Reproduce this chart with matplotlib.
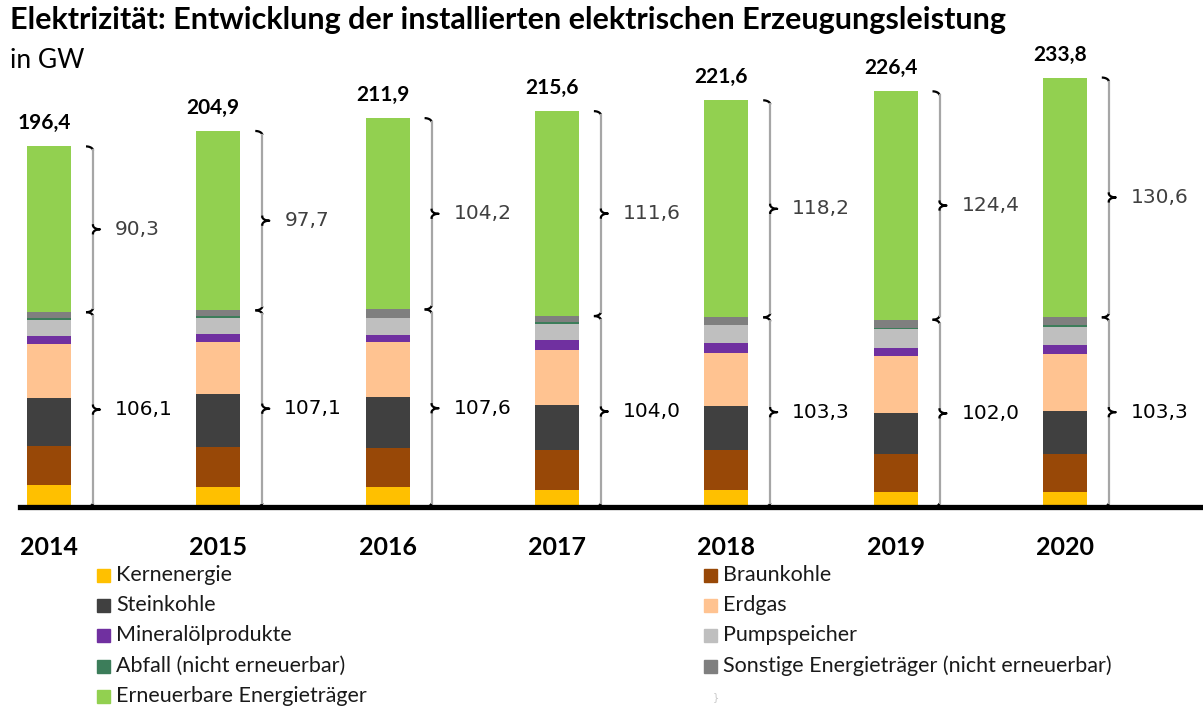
import numpy as np
import matplotlib
matplotlib.use('Agg')
import matplotlib.pyplot as plt
from matplotlib.patches import Rectangle

# Daten: installierte Leistung in GW
jahre = ['2014', '2015', '2016', '2017', '2018', '2019', '2020']

kernenergie = [12.1, 10.8, 10.8, 9.5, 9.5, 8.1, 8.1]
braunkohle = [21.3, 21.8, 21.6, 21.8, 21.8, 20.5, 20.5]
steinkohle = [25.9, 28.9, 27.3, 24.1, 23.6, 22.7, 23.5]
erdgas = [29.6, 28.4, 30.1, 30.0, 28.9, 31.2, 31.5]
mineraloel = [4.2, 4.4, 4.0, 5.5, 5.5, 4.2, 4.4]
pumpspeicher = [8.6, 8.7, 9.4, 8.7, 9.6, 10.0, 9.8]
abfall = [1.2, 1.0, 0.0, 1.1, 0.0, 0.9, 1.1]
sonstige = [3.2, 3.1, 4.4, 3.3, 4.4, 4.4, 4.4]
erneuerbare = [90.3, 97.7, 104.2, 111.6, 118.2, 124.4, 130.6]

summe_gesamt = ['196,4', '204,9', '211,9', '215,6', '221,6', '226,4', '233,8']
summe_konv = ['106,1', '107,1', '107,6', '104,0', '103,3', '102,0', '103,3']
summe_ee = ['90,3', '97,7', '104,2', '111,6', '118,2', '124,4', '130,6']

serien = [
    ('Kernenergie', kernenergie, '#FFC000'),
    ('Braunkohle', braunkohle, '#984807'),
    ('Steinkohle', steinkohle, '#404040'),
    ('Erdgas', erdgas, '#FFC391'),
    ('Mineralölprodukte', mineraloel, '#7030A0'),
    ('Pumpspeicher', pumpspeicher, '#BFBFBF'),
    ('Abfall (nicht erneuerbar)', abfall, '#3C7D5A'),
    ('Sonstige Energieträger (nicht erneuerbar)', sonstige, '#7F7F7F'),
    ('Erneuerbare Energieträger', erneuerbare, '#92D050'),
]

FONT = ['Lato', 'DejaVu Sans']
W, H = 1203, 708


# Geschweifte Klammer rechts neben dem Balken
def klammer(ax, x, y0, y1, w, h):
    ym = (y0 + y1) / 2
    t = np.linspace(0, np.pi / 2, 20)
    # unterer Haken
    ax.plot(x - w + w * np.sin(t), y0 + h - h * np.cos(t), color='black', lw=1.6, solid_capstyle='butt')
    # oberer Haken
    ax.plot(x - w + w * np.cos(t), y1 - h + h * np.sin(t), color='black', lw=1.6, solid_capstyle='butt')
    # senkrechte Linien
    ax.plot([x, x], [y0 + h, ym - h], color='#A6A6A6', lw=1.6)
    ax.plot([x, x], [ym + h, y1 - h], color='#A6A6A6', lw=1.6)
    # Spitze in der Mitte
    xs = np.concatenate([x + w - w * np.cos(t), x + w - w * np.sin(t)])
    ys = np.concatenate([ym - h + h * np.sin(t), ym + h - h * np.cos(t)])
    ax.plot(xs, ys, color='black', lw=1.6)


def main():
    fig = plt.figure(figsize=(W / 100, H / 100), dpi=100)

    # Achse so legen, dass Balken auf den Pixelpositionen liegen
    px_x = 169.3
    px_y = 1.836
    x0, yb, ytop = 49, 507, 40
    ax = fig.add_axes([20 / W, (H - yb) / H, (W - 20) / W, (yb - ytop) / H])
    ax.set_xlim((20 - x0) / px_x, (W - x0) / px_x)
    ax.set_ylim(0, (yb - ytop) / px_y)

    x = np.arange(len(jahre))
    bottom = np.zeros(len(jahre))
    for name, werte, farbe in serien:
        ax.bar(x, werte, bottom=bottom, width=44 / px_x, color=farbe, linewidth=0, zorder=2)
        bottom += np.array(werte)

    konv = np.zeros(len(jahre))
    for name, werte, farbe in serien[:-1]:
        konv += np.array(werte)
    total = konv + np.array(erneuerbare)

    bw = 7 / px_x
    bh = 4 / px_y
    for i in range(len(jahre)):
        xb = x[i] + 44 / px_x
        klammer(ax, xb, 0, konv[i], bw, bh)
        klammer(ax, xb, konv[i], total[i], bw, bh)
        ax.text(x[i] + 66 / px_x, konv[i] / 2, summe_konv[i], fontsize=14.5, color='black',
                va='center', ha='left', family='DejaVu Sans')
        ax.text(x[i] + 66 / px_x, (konv[i] + total[i]) / 2, summe_ee[i], fontsize=14.5, color='#404040',
                va='center', ha='left', family='DejaVu Sans')
        ax.text(x[i] - 5 / px_x, total[i] + 13 / px_y, summe_gesamt[i], fontsize=15, fontweight='bold',
                ha='center', va='bottom', family=FONT)

    # dicke Grundlinie
    ax.axhline(0, color='black', lw=3.8, zorder=5, clip_on=False)

    ax.set_xticks(x)
    ax.set_xticklabels(jahre, fontsize=18, fontweight='bold', family=FONT)
    ax.tick_params(axis='x', length=0, pad=21)
    ax.set_yticks([])
    for s in ax.spines.values():
        s.set_visible(False)
    ax.patch.set_alpha(0)

    # Titel
    fig.text(10 / W, 1 - 6 / H, 'Elektrizität: Entwicklung der installierten elektrischen Erzeugungsleistung',
             fontsize=22, fontweight='bold', family=FONT, va='top', ha='left')
    fig.text(10 / W, 1 - 60 / H, 'in GW', fontsize=19, family=FONT, va='center', ha='left')

    # Legende in zwei Spalten
    links = [0, 2, 4, 6, 8]
    rechts = [1, 3, 5, 7]
    zeilen = [575, 605, 635, 666, 696]
    for spalte, idx in ((97, links), (704, rechts)):
        for k, i in enumerate(idx):
            name, werte, farbe = serien[i]
            yc = zeilen[k]
            fig.patches.append(Rectangle((spalte / W, 1 - (yc + 6.5) / H), 13 / W, 13 / H,
                                         transform=fig.transFigure, color=farbe))
            fig.text((spalte + 19) / W, 1 - yc / H, name, fontsize=15.5, family=FONT,
                     va='center', ha='left', color='#1a1a1a')
    fig.text(713 / W, 1 - 697 / H, '}', fontsize=7, color='#C8C8C8', va='center', ha='left')

    fig.savefig('out.png', dpi=100)
    plt.close(fig)


if __name__ == '__main__':
    main()
